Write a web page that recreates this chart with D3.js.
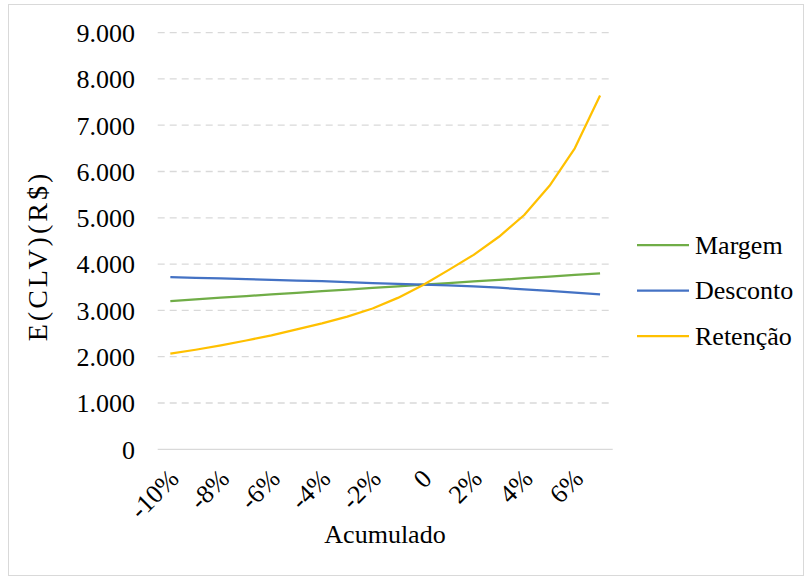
<!DOCTYPE html>
<html>
<head>
<meta charset="utf-8">
<script src="https://cdn.jsdelivr.net/npm/d3@7"></script>
</head>
<body style="margin:0;background:#fff">
<svg id="chart" width="809" height="577" style="display:block"></svg>
<script>
// ---- data ----
const categories = ["-10%","-9%","-8%","-7%","-6%","-5%","-4%","-3%","-2%","-1%","0","1%","2%","3%","4%","5%","6%","7%"];
const tickLabels = ["-10%","-8%","-6%","-4%","-2%","0","2%","4%","6%"];
const yTicks = [0,1000,2000,3000,4000,5000,6000,7000,8000,9000];
const seriesNames = ["Margem","Desconto","Retenção"];
const margem   = [3200,3240,3275,3310,3345,3380,3415,3450,3485,3520,3555,3590,3625,3660,3695,3730,3765,3800];
const desconto = [3720,3705,3690,3675,3660,3645,3630,3610,3590,3575,3555,3540,3520,3490,3455,3420,3385,3348];
const retencao = [2065,2150,2245,2350,2460,2590,2720,2865,3040,3270,3550,3870,4200,4590,5060,5690,6500,7640];
const colors = ["#70AD47","#4472C4","#FFC000"];
const seriesValues = [margem, desconto, retencao];

// ---- layout ----
const svg = d3.select("#chart");
const plot = {left: 157.7, right: 612.7, top: 32.6, bottom: 449.3};
const FONT = "'Liberation Serif'";
const FS = "26px";
const styleText = sel => sel.style("font-family", FONT).style("font-size", FS).style("fill", "#000");

svg.append("rect").attr("x", 8.5).attr("y", 4.5).attr("width", 795).attr("height", 571)
  .attr("fill", "#fff").attr("stroke", "#d9d9d9").attr("stroke-width", 1);

const x = d3.scaleBand().domain(categories).range([plot.left, plot.right]).padding(0);
const y = d3.scaleLinear().domain([0, 9000]).range([plot.bottom, plot.top]);

const fmt = v => v === 0 ? "0" : d3.format(",")(v).replace(/,/g, ".");

// gridlines
svg.append("g").selectAll("line").data(yTicks).join("line")
  .attr("x1", plot.left).attr("x2", plot.right)
  .attr("y1", d => y(d)).attr("y2", d => y(d))
  .attr("stroke", "#d9d9d9").attr("stroke-width", 1.3)
  .attr("stroke-dasharray", d => d === 0 ? null : "7,5");

// y axis labels
const yAxis = d3.axisLeft(y).tickValues(yTicks).tickFormat(fmt).tickSize(0).tickPadding(0);
const yg = svg.append("g").attr("transform", `translate(135,0)`).call(yAxis);
yg.select(".domain").remove();
yg.selectAll("text").call(styleText).attr("dy", "0.34em");

// x axis labels
const xAxis = d3.axisBottom(x).tickValues(tickLabels).tickSize(0).tickPadding(0);
const xg = svg.append("g").attr("transform", `translate(0,${plot.bottom})`).call(xAxis);
xg.select(".domain").remove();
xg.selectAll("text").call(styleText)
  .attr("text-anchor", "end")
  .attr("dy", null).attr("y", 0)
  .attr("transform", "translate(10,31) rotate(-45)");

// lines
const line = d3.line().x((d, i) => x(categories[i]) + x.bandwidth() / 2).y(d => y(d));
svg.append("g").selectAll("path").data(seriesValues).join("path")
  .attr("d", d => line(d))
  .attr("fill", "none")
  .attr("stroke", (d, i) => colors[i])
  .attr("stroke-width", 2.25)
  .attr("stroke-linejoin", "round");

// axis titles
svg.append("text").attr("x", 385).attr("y", 543).attr("text-anchor", "middle")
  .call(styleText).text("Acumulado");
svg.append("text").attr("transform", "translate(47,256) rotate(-90)").attr("text-anchor", "middle")
  .call(styleText).style("font-size", "28px").style("letter-spacing", "3px").text("E(CLV)(R$)");

// legend
const legY = [245, 290.5, 336];
const leg = svg.append("g").selectAll("g").data(seriesNames).join("g")
  .attr("transform", (d, i) => `translate(637,${legY[i]})`);
leg.append("line").attr("x1", 0).attr("x2", 52).attr("y1", 0).attr("y2", 0)
  .attr("stroke", (d, i) => colors[i]).attr("stroke-width", 2.25);
leg.append("text").attr("x", 58).attr("y", 0).attr("dy", "0.33em")
  .call(styleText).text(d => d);
</script>
</body>
</html>
